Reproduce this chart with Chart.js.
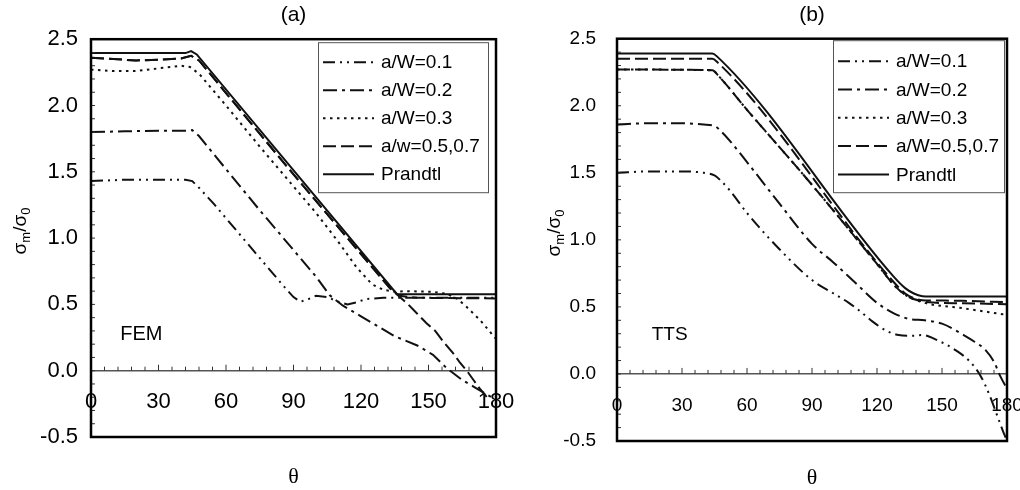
<!DOCTYPE html>
<html>
<head>
<meta charset="utf-8">
<title>Normalised stress vs angle</title>
<script src="https://cdn.jsdelivr.net/npm/chart.js@4.4.1/dist/chart.umd.min.js"></script>
<style>
  html, body { margin: 0; padding: 0; background: #fff; }
  #wrap { position: relative; width: 1020px; height: 490px; overflow: hidden; }
  canvas { position: absolute; top: 0; }
  #chartA { left: 0; }
  #chartB { left: 510px; }
</style>
</head>
<body>
<div id="wrap">
  <canvas id="chartA" width="530" height="490"></canvas>
  <canvas id="chartB" width="510" height="490"></canvas>
</div>
<script>
// ---- data (theta in degrees, sigma_m / sigma_0) ----

// (a) FEM
const thA01 = [0, 15, 30, 42, 45, 48, 55, 65, 75, 85, 90, 93, 96, 100, 105, 110, 114, 118, 122, 130, 140, 160, 180];
const sA01 = [1.43, 1.44, 1.44, 1.44, 1.43, 1.38, 1.25, 1.05, 0.85, 0.65, 0.555, 0.52, 0.535, 0.565, 0.555, 0.52, 0.50, 0.515, 0.54, 0.55, 0.55, 0.55, 0.55];

const thA02 = [0, 15, 30, 42, 45, 48, 60, 75, 90, 100, 106, 112, 120, 127, 135, 145, 152, 158, 165, 170, 175, 179];
const sA02 = [1.80, 1.805, 1.81, 1.81, 1.815, 1.77, 1.52, 1.21, 0.91, 0.71, 0.57, 0.49, 0.41, 0.34, 0.26, 0.19, 0.12, 0.02, -0.07, -0.12, -0.17, -0.21];

const thA03 = [0, 10, 20, 30, 40, 44, 48, 60, 75, 90, 100, 110, 118, 125, 130, 135, 140, 152, 158, 163, 167, 173, 180];
const sA03 = [2.27, 2.26, 2.26, 2.28, 2.30, 2.29, 2.24, 2.0, 1.69, 1.39, 1.19, 0.97, 0.78, 0.65, 0.61, 0.595, 0.60, 0.595, 0.58, 0.54, 0.48, 0.38, 0.24];

const thA05 = [0, 10, 20, 30, 40, 44.5, 48, 90, 120, 133, 137, 145, 180];
const sA05 = [2.36, 2.35, 2.34, 2.345, 2.355, 2.375, 2.34, 1.48, 0.88, 0.62, 0.565, 0.55, 0.545];

const thA07 = [0, 10, 20, 30, 40, 44.5, 48, 90, 120, 133, 137, 141, 145, 149, 153, 157, 161, 164, 167, 170, 173, 176];
const sA07 = [2.36, 2.35, 2.34, 2.345, 2.355, 2.375, 2.34, 1.48, 0.88, 0.62, 0.56, 0.50, 0.43, 0.36, 0.30, 0.21, 0.13, 0.06, 0.0, -0.07, -0.14, -0.20];

const thAP = [0, 42, 44.5, 47, 136, 180];
const sAP = [2.395, 2.395, 2.41, 2.385, 0.577, 0.577];

// (b) TTS
const thB01 = [0, 15, 30, 40, 45, 48, 52, 60, 75, 90, 100, 107, 112, 118, 124, 130, 136, 141, 148, 156, 163, 168, 172, 175, 178, 179.5];
const sB01 = [1.50, 1.51, 1.51, 1.50, 1.48, 1.44, 1.37, 1.20, 0.93, 0.70, 0.60, 0.53, 0.47, 0.39, 0.325, 0.29, 0.285, 0.29, 0.25, 0.18, 0.09, -0.02, -0.16, -0.29, -0.42, -0.48];

const thB02 = [0, 15, 30, 40, 45, 48, 52, 60, 75, 90, 100, 110, 120, 128, 135, 142, 150, 160, 165, 170, 174, 177, 180];
const sB02 = [1.86, 1.87, 1.87, 1.86, 1.85, 1.81, 1.74, 1.58, 1.27, 0.97, 0.83, 0.68, 0.53, 0.45, 0.41, 0.40, 0.375, 0.29, 0.24, 0.18, 0.09, -0.02, -0.11];

const thB03 = [0, 44, 47, 60, 90, 120, 128, 134, 140, 146, 155, 165, 172, 180];
const sB03 = [2.27, 2.265, 2.22, 1.97, 1.41, 0.82, 0.66, 0.58, 0.54, 0.515, 0.50, 0.477, 0.46, 0.44];

const thB05 = [0, 44, 46, 128, 133, 137, 141, 145, 160, 180];
const sB05 = [2.35, 2.35, 2.33, 0.68, 0.60, 0.565, 0.55, 0.548, 0.545, 0.535];

const thB07 = [0, 44, 47, 60, 90, 120, 128, 134, 140, 146, 160, 180];
const sB07 = [2.27, 2.265, 2.22, 1.97, 1.41, 0.82, 0.66, 0.58, 0.545, 0.532, 0.527, 0.52];

const thBP = [0, 44, 46, 128, 133, 137, 141, 145, 180];
const sBP = [2.39, 2.39, 2.37, 0.72, 0.64, 0.60, 0.58, 0.577, 0.577];

// legend texts and axis ticks
const legendA = ["a/W=0.1", "a/W=0.2", "a/W=0.3", "a/w=0.5,0.7", "Prandtl"];
const legendB = ["a/W=0.1", "a/W=0.2", "a/W=0.3", "a/W=0.5,0.7", "Prandtl"];
const thetaMin = 0, thetaMax = 180, thetaStep = 6, thetaLabelStep = 30;
const sigMin = -0.5, sigMax = 2.5, sigStep = 0.1;

(() => {
    const FONT = "Arial, 'Liberation Sans', Helvetica, sans-serif";
    const INK = "#111";

    // dash patterns per crack depth
    const DASH = {
        w01: [12, 5, 2, 5, 2, 5],
        w02: [14, 5, 3, 5],
        w03: [2.5, 4.5],
        w57: [13, 5],
        prandtl: [],
    };

    const pts = (th, v) => th.map((t, i) => ({ x: t, y: v[i] }));

    const line = (data, dash, smooth, legendIndex) => ({
        data: data,
        borderColor: INK,
        borderWidth: 2,
        borderDash: dash,
        pointRadius: 0,
        fill: false,
        cubicInterpolationMode: smooth ? "monotone" : "default",
        tension: 0,
        legendIndex: legendIndex,
    });

    // frame, inner ticks, legend, axis titles, in-plot tag
    const decor = {
        id: "decor",
        afterDatasetsDraw(chart, args, o) {
            const { ctx, chartArea: a, scales: { x, y } } = chart;
            ctx.save();

            // minor tick marks: up from the zero line, into the plot from the left axis
            ctx.strokeStyle = "#333";
            ctx.lineWidth = 1;
            const y0 = y.getPixelForValue(0);
            x.ticks.forEach((t) => {
                const px = x.getPixelForValue(t.value);
                const len = t.value % thetaLabelStep === 0 ? 6 : 4;
                ctx.beginPath();
                ctx.moveTo(px, y0);
                ctx.lineTo(px, y0 - len);
                ctx.stroke();
            });
            y.ticks.forEach((t) => {
                const py = y.getPixelForValue(t.value);
                ctx.beginPath();
                ctx.moveTo(a.left, py);
                ctx.lineTo(a.left + 4, py);
                ctx.stroke();
            });

            // plot frame
            ctx.strokeStyle = "#000";
            ctx.lineWidth = 2.5;
            ctx.strokeRect(a.left, a.top, a.right - a.left, a.bottom - a.top);

            // legend box
            const bx = a.right - o.legend.right - o.legend.w;
            const by = a.top + o.legend.top;
            ctx.fillStyle = "#fff";
            ctx.fillRect(bx, by, o.legend.w, o.legend.h);
            ctx.strokeStyle = "#555";
            ctx.lineWidth = 1;
            ctx.strokeRect(bx + 0.5, by + 0.5, o.legend.w, o.legend.h);
            const dsList = chart.data.datasets;
            o.legend.labels.forEach((txt, i) => {
                const ds = dsList.find((d) => d.legendIndex === i);
                const ry = by + o.legend.first + i * o.legend.gap;
                ctx.strokeStyle = INK;
                ctx.lineWidth = 2;
                ctx.setLineDash(ds ? ds.borderDash : []);
                ctx.beginPath();
                ctx.moveTo(bx + 5, ry);
                ctx.lineTo(bx + 56, ry);
                ctx.stroke();
                ctx.setLineDash([]);
                ctx.fillStyle = "#000";
                ctx.font = "19px " + FONT;
                ctx.textAlign = "left";
                ctx.textBaseline = "middle";
                ctx.fillText(txt, bx + 63, ry + 1);
            });

            // in-plot tag (FEM / TTS)
            ctx.font = o.tag.size + "px " + FONT;
            ctx.fillStyle = "#000";
            ctx.textAlign = "left";
            ctx.textBaseline = "middle";
            ctx.fillText(o.tag.text, x.getPixelForValue(o.tag.x), y.getPixelForValue(o.tag.y));

            // x axis title
            ctx.font = "22px 'Liberation Serif', 'Times New Roman', serif";
            ctx.textAlign = "center";
            ctx.fillText("\u03b8", (a.left + a.right) / 2, o.xTitleY);

            // y axis title with subscripts, rotated
            ctx.translate(o.yTitleX, o.yTitleY);
            ctx.rotate(-Math.PI / 2);
            const parts = [
                { t: "\u03c3", big: true },
                { t: "m", big: false },
                { t: "/\u03c3", big: true },
                { t: "0", big: false },
            ];
            const fontOf = (p) => (p.big ? "19px " : "13px ") + FONT;
            let total = 0;
            parts.forEach((p) => {
                ctx.font = fontOf(p);
                total += ctx.measureText(p.t).width;
            });
            let cx = -total / 2;
            ctx.textAlign = "left";
            ctx.textBaseline = "alphabetic";
            parts.forEach((p) => {
                ctx.font = fontOf(p);
                ctx.fillText(p.t, cx, p.big ? 6 : 10);
                cx += ctx.measureText(p.t).width;
            });

            ctx.restore();
        },
    };

    const makeChart = (canvasId, datasets, c) => {
        const canvas = document.getElementById(canvasId);
        if (!canvas) return;

        new Chart(canvas, {
            type: "line",
            data: { datasets: datasets },
            plugins: [decor],
            options: {
                responsive: false,
                animation: false,
                events: [],
                layout: { padding: { left: 0, top: 0, right: c.padRight, bottom: c.padBottom } },
                plugins: {
                    legend: { display: false },
                    tooltip: { enabled: false },
                    title: {
                        display: true,
                        text: c.title,
                        fullSize: false,
                        color: "#000",
                        font: { family: FONT, size: 21, weight: "normal" },
                        padding: { top: 3, bottom: c.titleGap },
                    },
                    decor: c.decor,
                },
                scales: {
                    x: {
                        type: "linear",
                        position: { y: 0 },
                        min: thetaMin,
                        max: thetaMax,
                        grid: { display: false, drawTicks: false },
                        border: { display: true, color: "#555", width: 1.5 },
                        ticks: {
                            stepSize: thetaStep,
                            autoSkip: false,
                            maxRotation: 0,
                            padding: c.xTickPad,
                            color: "#000",
                            font: { family: FONT, size: c.tickSize },
                            callback: (v) => (v % thetaLabelStep === 0 ? String(v) : ""),
                        },
                        afterFit: (s) => {
                            s.paddingLeft = 0;
                            s.paddingRight = 0;
                        },
                    },
                    y: {
                        type: "linear",
                        position: "left",
                        min: sigMin,
                        max: sigMax,
                        grid: { display: false, drawTicks: false },
                        border: { display: false },
                        ticks: {
                            stepSize: sigStep,
                            autoSkip: false,
                            padding: c.yTickPad,
                            color: "#000",
                            font: { family: FONT, size: c.tickSize },
                            callback: (v) => (Math.abs(Math.round(v * 2) - v * 2) < 1e-6 ? v.toFixed(1) : ""),
                        },
                        afterFit: (s) => {
                            s.width = c.yWidth;
                            s.paddingTop = 0;
                            s.paddingBottom = 0;
                        },
                    },
                },
            },
        });
    };

    makeChart("chartA", [
        line(pts(thA01, sA01), DASH.w01, false, 0),
        line(pts(thA02, sA02), DASH.w02, false, 1),
        line(pts(thA03, sA03), DASH.w03, false, 2),
        line(pts(thA05, sA05), DASH.w57, false, 3),
        line(pts(thA07, sA07), DASH.w57, false, -1),
        line(pts(thAP, sAP), DASH.prandtl, false, 4),
    ], {
        title: "(a)",
        titleGap: 11,
        padRight: 34,
        padBottom: 53,
        yWidth: 91,
        yTickPad: 13,
        xTickPad: 18,
        tickSize: 22,
        decor: {
            legend: { labels: legendA, right: 8, top: 3, w: 170, h: 150, first: 20, gap: 28 },
            tag: { text: "FEM", x: 13, y: 0.27, size: 20 },
            xTitleY: 477,
            yTitleX: 20,
            yTitleY: 231,
        },
    });

    makeChart("chartB", [
        line(pts(thB01, sB01), DASH.w01, true, 0),
        line(pts(thB02, sB02), DASH.w02, true, 1),
        line(pts(thB03, sB03), DASH.w03, true, 2),
        line(pts(thB05, sB05), DASH.w57, true, 3),
        line(pts(thB07, sB07), DASH.w57, true, -1),
        line(pts(thBP, sBP), DASH.prandtl, true, 4),
    ], {
        title: "(b)",
        titleGap: 10.5,
        padRight: 13,
        padBottom: 49,
        yWidth: 107,
        yTickPad: 21,
        xTickPad: 20,
        tickSize: 19,
        decor: {
            legend: { labels: legendB, right: 3, top: 1.5, w: 171, h: 152, first: 21, gap: 28.3 },
            tag: { text: "TTS", x: 16, y: 0.29, size: 19 },
            xTitleY: 478,
            yTitleX: 44,
            yTitleY: 233,
        },
    });
})();
</script>
</body>
</html>
